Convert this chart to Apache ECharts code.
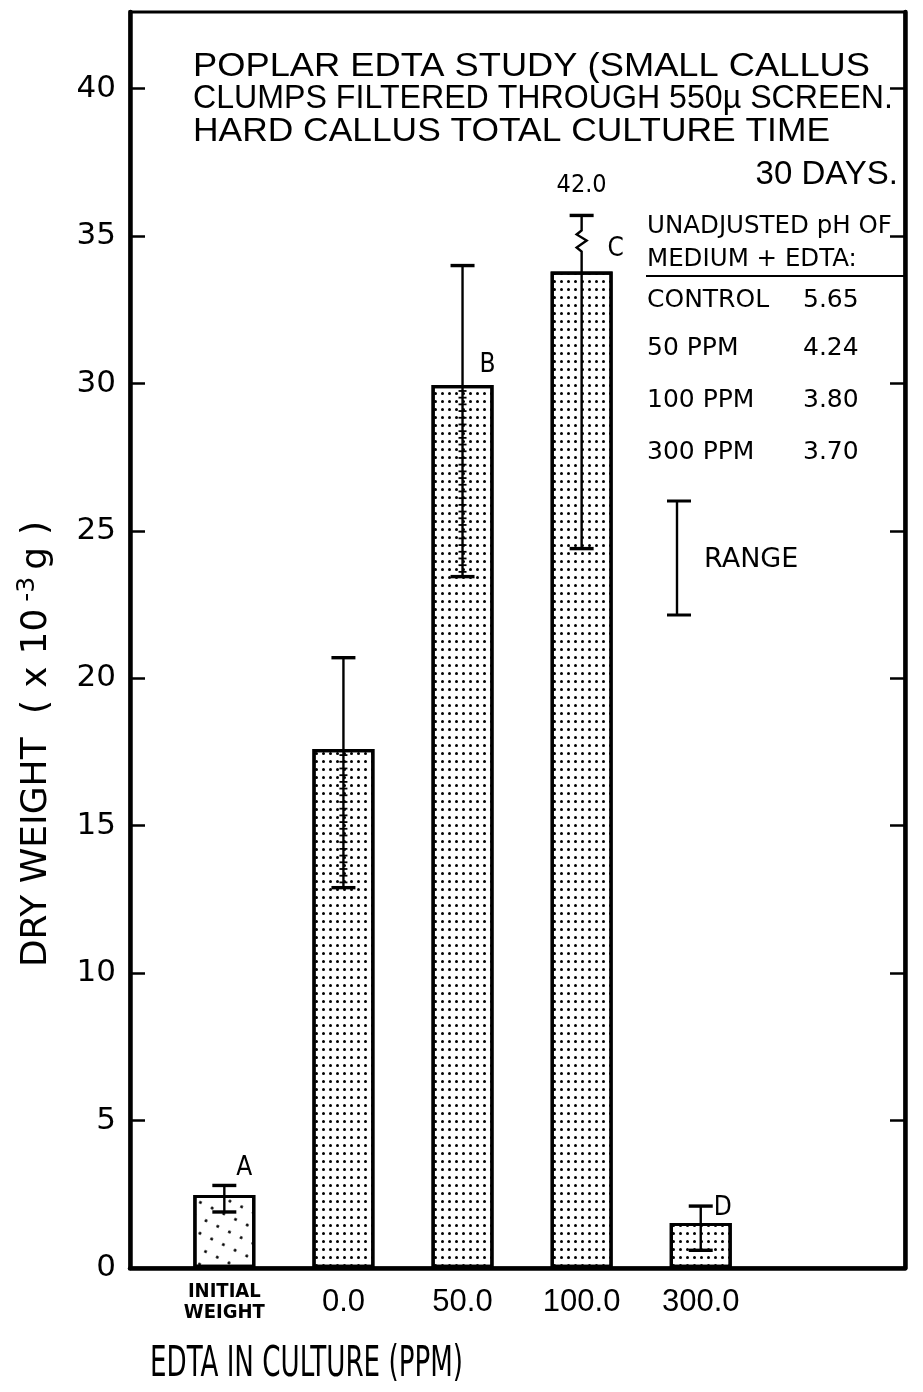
<!DOCTYPE html>
<html><head><meta charset="utf-8">
<script src="https://cdn.jsdelivr.net/npm/echarts@6/dist/echarts.min.js"></script>
<style>html,body{margin:0;padding:0;background:#fff}#c{width:923px;height:1392px}</style>
</head><body><div id="c"></div>
<script>
// ---- data ----
const categories = ['INITIAL\nWEIGHT', '0.0', '50.0', '100.0', '300.0'];
const dryWeight  = [2.48, 17.6, 29.95, 33.8, 1.53];
const rangeLow   = [1.9, 12.9, 23.45, 24.4, 0.6];
const rangeHigh  = [2.8, 20.7, 34.0, 42.0, 2.1];
const groupLetters = ['A', '', 'B', 'C', 'D'];
const yTickValues = [0, 5, 10, 15, 20, 25, 30, 35, 40];
const brokenRangeShownAt = 35.7;   // off-scale upper limit (42.0) is drawn broken at this height
const titleLines = ['POPLAR EDTA STUDY (SMALL CALLUS', 'CLUMPS FILTERED THROUGH 550\u00b5 SCREEN.', 'HARD CALLUS TOTAL CULTURE TIME'];
const titleDays = '30 DAYS.';
const phHeader = ['UNADJUSTED pH OF', 'MEDIUM + EDTA:'];
const phLabels = ['CONTROL', '50 PPM', '100 PPM', '300 PPM'];
const phValues = ['5.65', '4.24', '3.80', '3.70'];
const xTitle = 'EDTA IN CULTURE (PPM)';

// ---- styles / layout ----
const NARROW = "'Liberation Sans Narrow','DejaVu Sans Condensed','Liberation Sans',sans-serif";
const SANS = "'Liberation Sans','Arial',sans-serif";
const GEO = "'DejaVu Sans','Noto Sans',sans-serif";
const letterDx = [20, 0, 25, 34, 22];
const letterDy = [-27, 0, -20, -22, -15];
const ladder = [false, true, true, false, false];
const titleLineY = [67, 99, 132];
const titleLineWidth = [677, 700, 637];

const measureCtx = document.createElement('canvas').getContext('2d');
function textWidth(text, size, family) {
  measureCtx.font = size + 'px ' + family;
  return measureCtx.measureText(text).width;
}

const chart = echarts.init(document.getElementById('c'), null, {renderer: 'canvas'});

const denseDecal = {symbol: 'circle', symbolSize: 1, color: '#000', dashArrayX: [2.6, 3.6], dashArrayY: [2.6, 4.2]};
const sparseDecal = {symbol: 'circle', symbolSize: 1, color: '#000', dashArrayX: [2.8, 10], dashArrayY: [2.8, 11], rotation: 0.45};

const errData = dryWeight.map((v, i) => [i, rangeLow[i], rangeHigh[i], v, groupLetters[i]]);

function renderErr(params, api) {
  const i = api.value(0);
  const lo = api.value(1), hi = api.value(2), top = api.value(3);
  const broken = hi > brokenRangeShownAt;
  const pLo = api.coord([i, lo]);
  const pHi = api.coord([i, broken ? brokenRangeShownAt : hi]);
  const pTop = api.coord([i, top]);
  const x = pLo[0];
  const children = [];
  const ls = {stroke: '#000', lineWidth: 2.4};
  const cs = {stroke: '#000', lineWidth: 3.4};
  const cw = 12;
  if (broken) {
    const yT = pTop[1];
    children.push({type: 'polyline', shape: {points: [[x, pLo[1]], [x, yT - 20], [x - 5, yT - 24], [x + 5, yT - 31], [x - 5, yT - 37], [x, yT - 41], [x, pHi[1]]]}, style: Object.assign({fill: null}, ls)});
    children.push({type: 'text', x: x, y: pHi[1] - 30, style: {text: hi.toFixed(1), fontSize: 25, fontFamily: NARROW, fill: '#000', align: 'center', verticalAlign: 'middle'}});
  } else {
    children.push({type: 'line', shape: {x1: x, y1: pLo[1], x2: x, y2: pHi[1]}, style: ls});
  }
  children.push({type: 'line', shape: {x1: x - cw, y1: pHi[1], x2: x + cw, y2: pHi[1]}, style: cs});
  children.push({type: 'line', shape: {x1: x - cw, y1: pLo[1], x2: x + cw, y2: pLo[1]}, style: cs});
  if (ladder[i]) {
    for (let y = pTop[1] + 6; y < pLo[1] - 3; y += 6.7) {
      children.push({type: 'line', shape: {x1: x - 4, y1: y, x2: x + 4, y2: y}, style: {stroke: '#000', lineWidth: 1.8}});
    }
  }
  const letter = api.value(4);
  if (letter) {
    children.push({type: 'text', x: x + letterDx[i], y: pTop[1] + letterDy[i], style: {text: letter, fontSize: 26, fontFamily: NARROW, fill: '#000', align: 'center', verticalAlign: 'middle'}});
  }
  return {type: 'group', children: children};
}

function txt(text, x, y, size, family, align, extra) {
  return Object.assign({type: 'text', x: x, y: y, style: {text: text, fontSize: size, fontFamily: family, fill: '#000', align: align || 'left', verticalAlign: 'middle'}}, extra || {});
}

const graphics = [];
titleLines.forEach((t, k) => {
  const sx = titleLineWidth[k] / textWidth(t, 33, SANS);
  graphics.push(txt(t, 193, titleLineY[k], 33, SANS, 'left', {scaleX: sx}));
});
graphics.push(txt(titleDays, 898, 175, 33, SANS, 'right'));
graphics.push(txt(phHeader[0], 647, 227, 24.5, GEO));
graphics.push(txt(phHeader[1], 647, 260, 24.5, GEO));
graphics.push({type: 'line', shape: {x1: 646, y1: 276, x2: 904, y2: 276}, style: {stroke: '#000', lineWidth: 2.2}});
phLabels.forEach((t, k) => {
  const yc = [300, 348, 400, 452][k];
  graphics.push(txt(t, 647, yc, 25, GEO));
  graphics.push(txt(phValues[k], 803, yc, 25, GEO));
});
// RANGE key
graphics.push({type: 'line', shape: {x1: 677, y1: 501, x2: 677, y2: 615}, style: {stroke: '#000', lineWidth: 2.4}});
graphics.push({type: 'line', shape: {x1: 667, y1: 501, x2: 691, y2: 501}, style: {stroke: '#000', lineWidth: 3}});
graphics.push({type: 'line', shape: {x1: 667, y1: 615, x2: 691, y2: 615}, style: {stroke: '#000', lineWidth: 3}});
graphics.push(txt('RANGE', 704, 560, 27, GEO));
// x axis title (condensed lettering)
graphics.push(txt(xTitle, 150, 1365, 42, NARROW, 'left', {scaleX: 313 / textWidth(xTitle, 42, NARROW)}));
// y axis title (rotated, wide lettering)
graphics.push({
  type: 'text', x: 35, y: 738, rotation: Math.PI / 2,
  style: {
    text: '{n|DRY WEIGHT }{p|(}{n|x}{m|10}{s|-3}{g|g}{p|)}',
    align: 'center', verticalAlign: 'middle', fill: '#000',
    rich: {
      n: {fontSize: 36, fontFamily: GEO, fill: '#000', verticalAlign: 'bottom'},
      p: {fontSize: 36, fontFamily: GEO, fill: '#000', verticalAlign: 'bottom', padding: [0, 12, 0, 12]},
      m: {fontSize: 36, fontFamily: GEO, fill: '#000', verticalAlign: 'bottom', padding: [0, 0, 0, 12]},
      s: {fontSize: 25, fontFamily: GEO, fill: '#000', verticalAlign: 'bottom', padding: [0, 3, 15, 7]},
      g: {fontSize: 36, fontFamily: GEO, fill: '#000', verticalAlign: 'bottom', padding: [0, 0, 0, 4]}
    }
  }
});

chart.setOption({
  animation: false,
  backgroundColor: '#fff',
  grid: {left: 130, right: 18, top: 12, bottom: 124, show: true, borderColor: '#000', borderWidth: 3},
  xAxis: {
    type: 'value', min: -0.792, max: 5.715,
    axisLine: {show: true, onZero: false, lineStyle: {color: '#000', width: 4.5}},
    axisTick: {show: false}, splitLine: {show: false},
    axisLabel: {
      customValues: [0, 1, 2, 3, 4], margin: 13, color: '#000',
      formatter: function (v) {
        const c = categories[Math.round(v)] || '';
        if (c.indexOf('\n') >= 0) return c.split('\n').map(s => '{s|' + s + '}').join('\n');
        return '{n|' + c + '}';
      },
      rich: {
        s: {fontSize: 20, lineHeight: 21, fontFamily: NARROW, fontWeight: 'bold', color: '#000'},
        n: {fontSize: 31, lineHeight: 42, fontFamily: SANS, color: '#000'}
      }
    }
  },
  yAxis: [{
    type: 'value', min: 0, max: 42.6, interval: 5, position: 'left',
    axisLine: {show: true, onZero: false, lineStyle: {color: '#000', width: 4.5}},
    axisTick: {show: true, inside: true, length: 15, customValues: yTickValues, lineStyle: {color: '#000', width: 2.5}},
    axisLabel: {customValues: yTickValues, fontSize: 31, fontFamily: GEO, color: '#000', margin: 14},
    splitLine: {show: false}
  }, {
    type: 'value', min: 0, max: 42.6, interval: 5, position: 'right',
    axisLine: {show: true, onZero: false, lineStyle: {color: '#000', width: 4.5}},
    axisTick: {show: true, inside: true, length: 15, customValues: yTickValues, lineStyle: {color: '#000', width: 2.5}},
    axisLabel: {show: false}, splitLine: {show: false}
  }],
  graphic: graphics,
  series: [{
    type: 'bar', barWidth: 62,
    data: dryWeight.map((v, i) => ({value: [i, v], itemStyle: {decal: i === 0 ? sparseDecal : denseDecal}})),
    itemStyle: {color: '#fff', borderColor: '#000', borderWidth: 3.2}
  }, {
    type: 'custom', renderItem: renderErr, data: errData, z: 5, clip: false,
    encode: {x: 0, y: [1, 2]}
  }]
});
</script></body></html>
